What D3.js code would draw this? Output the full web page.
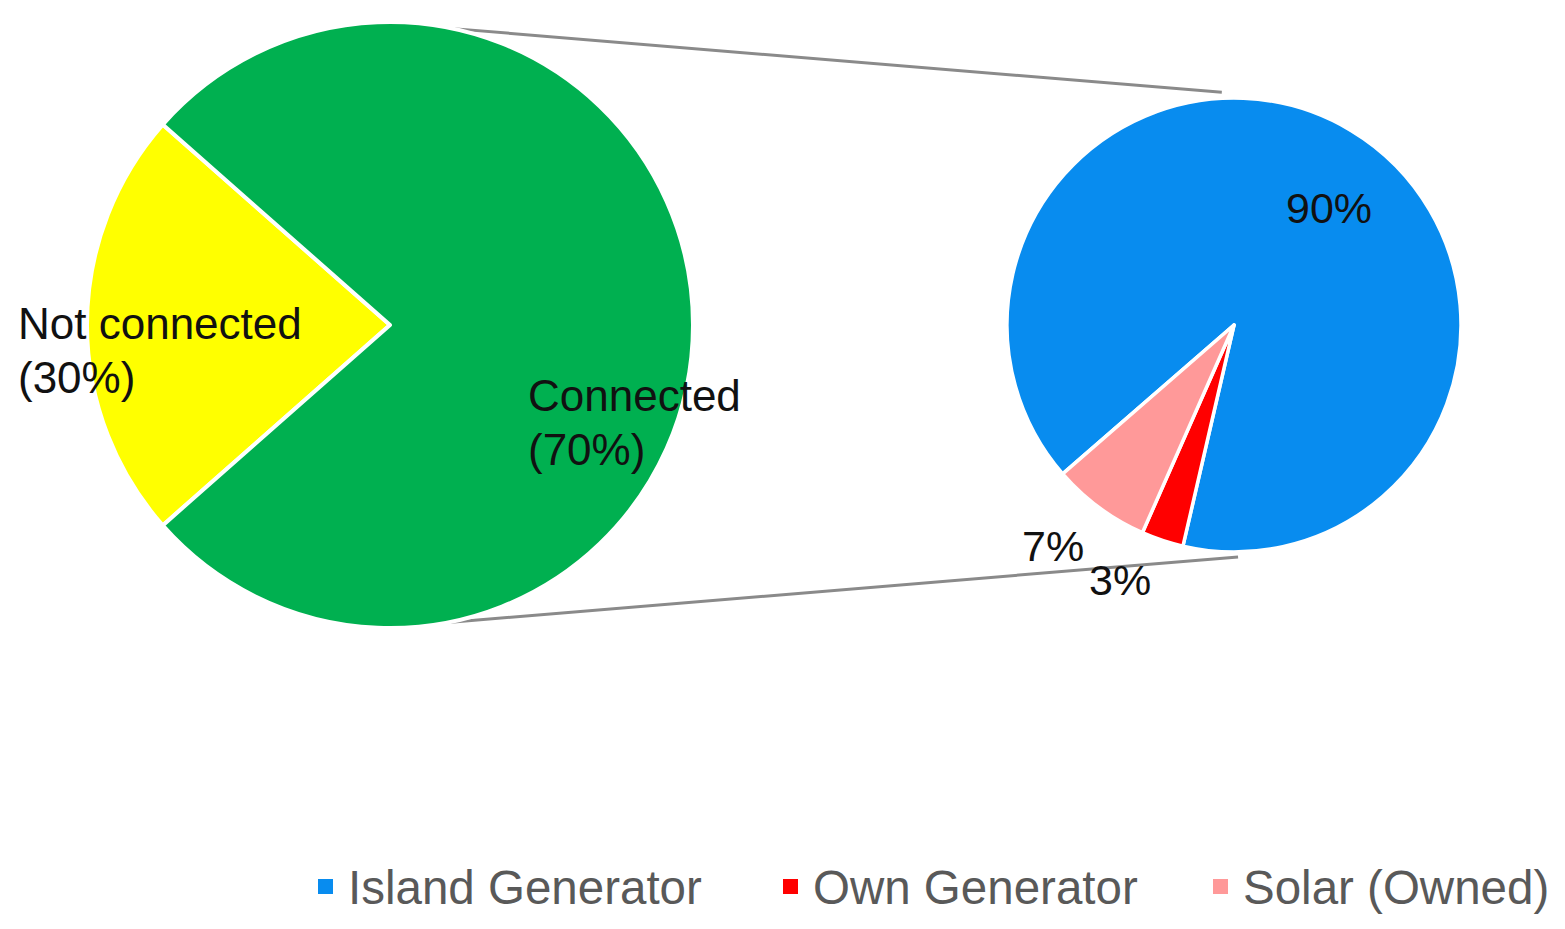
<!DOCTYPE html>
<html>
<head>
<meta charset="utf-8">
<script src="https://cdn.jsdelivr.net/npm/d3@7"></script>
<style>
  body { margin: 0; background: #fff; }
  svg { display: block; font-family: "Liberation Sans", Arial, sans-serif; }
</style>
</head>
<body>
<script>
// main pie (slice size as drawn in the picture, label text separate)
const mainNames = ["Not connected", "Connected"];
const mainShares = [23, 77];
const mainLabels = [["Not connected", "(30%)"], ["Connected", "(70%)"]];
const mainColors = ["#FFFF00", "#00B050"];

// secondary pie
const subNames = ["Island Generator", "Own Generator", "Solar (Owned)"];
const subValues = [90, 3, 7];
const subLabels = ["90%", "3%", "7%"];
const subColors = ["#088CEF", "#FF0000", "#FF9999"];

const width = 1565, height = 929;

const svg = d3.select("body").append("svg")
  .attr("width", width)
  .attr("height", height);

//pie geometry
const main = {cx: 390, cy: 325, r: 303};
const sub = {cx: 1234, cy: 325, r: 227};
const rad = d => d * Math.PI / 180;

//connector lines between the two pies
const pt = (c, r, deg) => [c.cx + r * Math.sin(rad(deg)), c.cy - r * Math.cos(rad(deg))];
const connectors = [
  [pt(main, main.r, 12), pt(sub, sub.r + 6, -3)],
  [pt(main, main.r, 169), pt(sub, sub.r + 5, 179)]
];
svg.append("g")
  .selectAll("line")
  .data(connectors)
  .enter().append("line")
  .attr("x1", d => d[0][0]).attr("y1", d => d[0][1])
  .attr("x2", d => d[1][0]).attr("y2", d => d[1][1])
  .attr("stroke", "#8a8a8a")
  .attr("stroke-width", 3);

//main pie
const mainSpan = mainShares[0] / d3.sum(mainShares) * 2 * Math.PI;
const mainPie = d3.pie().sort(null)
  .startAngle(-Math.PI / 2 - mainSpan / 2)
  .endAngle(-Math.PI / 2 - mainSpan / 2 + 2 * Math.PI);
const mainArc = d3.arc().innerRadius(0).outerRadius(main.r);

svg.append("g")
  .attr("transform", "translate(" + main.cx + "," + main.cy + ")")
  .selectAll("path")
  .data(mainPie(mainShares))
  .enter().append("path")
  .attr("d", mainArc)
  .attr("fill", (d, i) => mainColors[i])
  .attr("stroke", "#fff")
  .attr("stroke-width", 4)
  .attr("stroke-linejoin", "round");

//secondary pie
const subPie = d3.pie().sort(null)
  .startAngle(rad(229))
  .endAngle(rad(229) + 2 * Math.PI);
const subArc = d3.arc().innerRadius(0).outerRadius(sub.r);

svg.append("g")
  .attr("transform", "translate(" + sub.cx + "," + sub.cy + ")")
  .selectAll("path")
  .data(subPie(subValues))
  .enter().append("path")
  .attr("d", subArc)
  .attr("fill", (d, i) => subColors[i])
  .attr("stroke", "#fff")
  .attr("stroke-width", 3.5)
  .attr("stroke-linejoin", "round");

//data labels
const mainLabelPos = [[18 - main.cx, 339 - main.cy], [528 - main.cx, 411 - main.cy]];
const mainText = svg.append("g")
  .attr("transform", "translate(" + main.cx + "," + main.cy + ")")
  .selectAll("text")
  .data(mainLabels)
  .enter().append("text")
  .attr("x", (d, i) => mainLabelPos[i][0])
  .attr("y", (d, i) => mainLabelPos[i][1])
  .attr("font-size", 44)
  .attr("fill", "#111");
mainText.selectAll("tspan")
  .data(d => d)
  .enter().append("tspan")
  .attr("x", function() { return d3.select(this.parentNode).attr("x"); })
  .attr("dy", (d, i) => i === 0 ? 0 : 54)
  .text(d => d);

const subLabelPos = [[1286 - sub.cx, 223 - sub.cy], [1089 - sub.cx, 595 - sub.cy], [1022 - sub.cx, 561 - sub.cy]];
svg.append("g")
  .attr("transform", "translate(" + sub.cx + "," + sub.cy + ")")
  .selectAll("text")
  .data(subLabels)
  .enter().append("text")
  .attr("x", (d, i) => subLabelPos[i][0])
  .attr("y", (d, i) => subLabelPos[i][1])
  .attr("font-size", 43)
  .attr("fill", "#111")
  .text(d => d);

//legend
const legendX = [318, 783, 1213];
const legend = svg.append("g")
  .attr("font-size", 47.5)
  .attr("fill", "#595959")
  .selectAll("g")
  .data(subNames)
  .enter().append("g")
  .attr("transform", (d, i) => "translate(" + legendX[i] + ",887)");

legend.append("rect")
  .attr("x", 0)
  .attr("y", -8)
  .attr("width", 15)
  .attr("height", 15)
  .attr("fill", (d, i) => subColors[i]);

legend.append("text")
  .attr("x", 30)
  .attr("y", 17)
  .text(d => d);
</script>
</body>
</html>
